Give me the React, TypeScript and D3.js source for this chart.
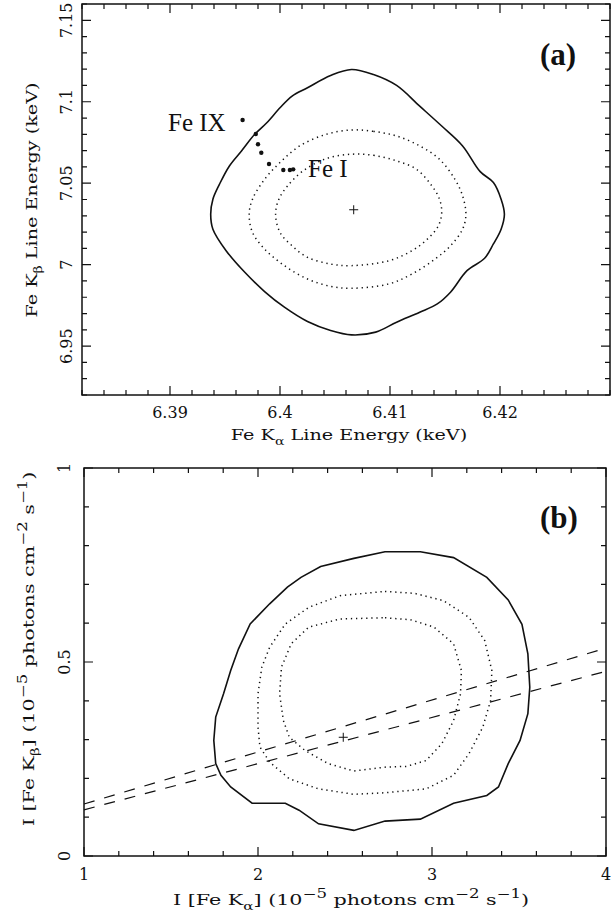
import React from 'react';
import * as d3 from 'd3';

type Pt = [number, number];

// ---- panel (a): Kalpha vs Kbeta line energy (keV)
const kaDomain: Pt = [6.382, 6.43];
const kbDomain: Pt = [6.92, 7.16];
const kaTicks = [6.39, 6.4, 6.41, 6.42];
const kbTicks = [6.95, 7, 7.05, 7.1, 7.15];

const outerA: Pt[] = [
  [6.4065, 7.1198], [6.4085, 7.1167], [6.4106, 7.11], [6.4127, 7.0973], [6.4147, 7.0851],
  [6.4166, 7.0729], [6.4182, 7.0571], [6.4194, 7.0504], [6.4201, 7.0402], [6.4204, 7.031],
  [6.4201, 7.0218], [6.4194, 7.0127], [6.4186, 7.0039], [6.417, 6.9963], [6.4155, 6.9831],
  [6.4143, 6.9759], [6.4127, 6.9708], [6.4106, 6.9647], [6.4087, 6.9586], [6.4065, 6.9569],
  [6.4046, 6.9596], [6.4025, 6.9651], [6.4004, 6.9739], [6.3986, 6.9835], [6.3968, 6.9953],
  [6.3951, 7.0086], [6.3939, 7.0218], [6.3937, 7.031], [6.3939, 7.0402], [6.3945, 7.0494],
  [6.3954, 7.0606], [6.3965, 7.0698], [6.3977, 7.08], [6.3988, 7.0871], [6.4, 7.0963],
  [6.4011, 7.1035], [6.4025, 7.1086], [6.4046, 7.1161],
];
const midA: Pt[] = [
  [6.4065, 7.0827], [6.4085, 7.0818], [6.4106, 7.079], [6.4127, 7.0729], [6.4145, 7.0647],
  [6.4159, 7.0524], [6.4166, 7.0422], [6.4169, 7.031], [6.4166, 7.0218], [6.4155, 7.0116],
  [6.4141, 7.0035], [6.412, 6.9943], [6.4099, 6.9882], [6.4065, 6.9855], [6.4046, 6.9867],
  [6.4025, 6.9912], [6.4004, 6.9994], [6.3986, 7.0096], [6.3975, 7.0198], [6.3972, 7.031],
  [6.3975, 7.0402], [6.3986, 7.0524], [6.4, 7.0627], [6.4018, 7.0729], [6.4042, 7.08],
];
const innerA: Pt[] = [
  [6.4065, 7.0678], [6.4085, 7.0671], [6.4106, 7.0637], [6.4124, 7.0586], [6.4138, 7.0484],
  [6.4145, 7.0402], [6.4147, 7.032], [6.4144, 7.0239], [6.4134, 7.0157], [6.412, 7.0086],
  [6.4099, 7.0024], [6.4065, 6.9994], [6.4046, 7.0004], [6.4025, 7.0045], [6.4011, 7.0116],
  [6.4, 7.0198], [6.3996, 7.031], [6.3999, 7.0402], [6.4007, 7.0484], [6.4021, 7.0576],
  [6.4042, 7.0651],
];
const bestA: Pt = [6.4067, 7.0337];
// Fe IX ... Fe I laboratory energies
const ionPoints: Pt[] = [
  [6.3966, 7.0888], [6.3978, 7.0802], [6.398, 7.0739], [6.3983, 7.0687],
  [6.399, 7.0618], [6.4003, 7.0581], [6.4009, 7.0581], [6.4012, 7.0585],
];

// ---- panel (b): line intensities (1e-5 photons cm^-2 s^-1)
const iaDomain: Pt = [1, 4];
const ibDomain: Pt = [0, 1];
const iaTicks = [1, 2, 3, 4];
const ibTicks = [0, 0.5, 1];

const outerB: Pt[] = [
  [2.73, 0.784], [2.933, 0.784], [3.124, 0.769], [3.315, 0.718], [3.438, 0.66],
  [3.517, 0.597], [3.551, 0.521], [3.562, 0.435], [3.551, 0.367], [3.506, 0.298],
  [3.438, 0.238], [3.382, 0.178], [3.315, 0.156], [3.124, 0.136], [2.933, 0.095],
  [2.73, 0.09], [2.551, 0.066], [2.348, 0.083], [2.236, 0.118], [2.157, 0.136],
  [1.966, 0.136], [1.843, 0.178], [1.787, 0.208], [1.757, 0.238], [1.746, 0.298],
  [1.757, 0.358], [1.802, 0.418], [1.843, 0.478], [1.888, 0.534], [1.955, 0.598],
  [2.067, 0.65], [2.169, 0.693], [2.247, 0.718], [2.36, 0.746], [2.551, 0.767],
];
const midB: Pt[] = [
  [2.73, 0.682], [2.899, 0.677], [3.067, 0.658], [3.213, 0.615], [3.303, 0.555],
  [3.344, 0.478], [3.337, 0.401], [3.292, 0.332], [3.213, 0.264], [3.124, 0.208],
  [2.966, 0.173], [2.73, 0.163], [2.551, 0.159], [2.348, 0.173], [2.18, 0.199],
  [2.067, 0.242], [2.011, 0.281], [2.0, 0.332], [2.0, 0.418], [2.022, 0.487],
  [2.067, 0.538], [2.157, 0.598], [2.292, 0.641], [2.472, 0.671],
];
const innerB: Pt[] = [
  [2.73, 0.614], [2.876, 0.609], [3.011, 0.59], [3.124, 0.547], [3.169, 0.478],
  [3.164, 0.418], [3.124, 0.349], [3.056, 0.289], [2.966, 0.246], [2.854, 0.231],
  [2.73, 0.229], [2.551, 0.219], [2.404, 0.238], [2.27, 0.272], [2.18, 0.306],
  [2.146, 0.349], [2.124, 0.418], [2.135, 0.487], [2.191, 0.547], [2.292, 0.59],
  [2.472, 0.611],
];
const bestB: Pt = [2.49, 0.306];
// Kbeta/Kalpha ratio range
const ratioLines = [0.134, 0.119];

const FONT = 'DejaVu Serif';
const TIMES = 'Liberation Serif';
const INK = '#111';
// the plot lettering is wider than DejaVu Serif
const STRETCH = 1.28;
const STRETCH_FLUX = 1.38;

type Scale = d3.ScaleLinear<number, number>;

function Frame({ x, y, xMajor, xMinorStep, yMajor, yMinorStep }: {
  x: Scale; y: Scale; xMajor: number[]; xMinorStep: number; yMajor: number[]; yMinorStep: number;
}) {
  const [x0, x1] = x.range();
  const [y0, y1] = y.range(); // y0 bottom, y1 top
  const [dx0, dx1] = x.domain();
  const [dy0, dy1] = y.domain();
  const xMinor = d3.range(Math.ceil(dx0 / xMinorStep - 1e-6) * xMinorStep, dx1 + 1e-9, xMinorStep);
  const yMinor = d3.range(Math.ceil(dy0 / yMinorStep - 1e-6) * yMinorStep, dy1 + 1e-9, yMinorStep);
  const isMajor = (v: number, arr: number[]) => arr.some(m => Math.abs(m - v) < 1e-7);
  const ticks: string[] = [];
  xMinor.forEach(v => {
    const px = x(v);
    const len = isMajor(v, xMajor) ? 9 : 5;
    ticks.push(`M${px},${y0}v${-len}M${px},${y1}v${len}`);
  });
  yMinor.forEach(v => {
    const py = y(v);
    const len = isMajor(v, yMajor) ? 9 : 5;
    ticks.push(`M${x0},${py}h${len}M${x1},${py}h${-len}`);
  });
  return (
    <g>
      <path d={ticks.join('')} stroke={INK} strokeWidth={1.2} fill="none" />
      <rect x={x0} y={y1} width={x1 - x0} height={y0 - y1} fill="none" stroke={INK} strokeWidth={1.5} />
    </g>
  );
}

function Contours({ x, y, outer, mid, inner, best, curve }: {
  x: Scale; y: Scale; outer: Pt[]; mid: Pt[]; inner: Pt[]; best: Pt; curve: d3.CurveFactory;
}) {
  const line = d3.line<Pt>().x(d => x(d[0])).y(d => y(d[1])).curve(curve);
  const bx = x(best[0]);
  const by = y(best[1]);
  return (
    <g fill="none" stroke={INK}>
      <path d={line(outer) || ''} strokeWidth={1.6} />
      <path d={line(mid) || ''} strokeWidth={1.5} strokeDasharray="1.3 3.8" />
      <path d={line(inner) || ''} strokeWidth={1.5} strokeDasharray="1.3 3.8" />
      <path d={`M${bx - 4.5},${by}h9M${bx},${by - 4.5}v9`} strokeWidth={1} />
    </g>
  );
}

// intensity axis title with sub- and superscripts
function FluxTitle({ line }: { line: string }) {
  return (
    <>
      I [Fe K<tspan fontSize={11} dy={5}>{line}</tspan><tspan dy={-5}>] (10</tspan>
      <tspan fontSize={12} dy={-7}>−5</tspan><tspan dy={7}> photons cm</tspan>
      <tspan fontSize={12} dy={-7}>−2</tspan><tspan dy={7}> s</tspan>
      <tspan fontSize={12} dy={-7}>−1</tspan><tspan dy={7}>)</tspan>
    </>
  );
}

export default function App() {
  // panel (a)
  const xa = d3.scaleLinear().domain(kaDomain).range([82, 610]);
  const ya = d3.scaleLinear().domain(kbDomain).range([395, 4]);
  // panel (b)
  const xb = d3.scaleLinear().domain(iaDomain).range([84, 606]);
  const yb = d3.scaleLinear().domain(ibDomain).range([856, 468]);

  const fmt = (v: number) => String(+v.toFixed(3));

  return (
    <svg width={611} height={917} style={{ position: 'absolute', left: 0, top: 0, background: '#fff' }}
      fontFamily={FONT} fill={INK}>
      <rect width={611} height={917} fill="#fff" />

      {/* ---------- panel (a) ---------- */}
      <Contours x={xa} y={ya} outer={outerA} mid={midA} inner={innerA} best={bestA}
        curve={d3.curveCatmullRomClosed} />
      {ionPoints.map((p, i) => (
        <circle key={i} cx={xa(p[0])} cy={ya(p[1])} r={2.2} fill={INK} />
      ))}
      <text x={168} y={131} fontFamily={TIMES} fontSize={25}>Fe IX</text>
      <text x={308} y={177} fontFamily={TIMES} fontSize={25}>Fe I</text>
      <text x={540} y={65} fontFamily={TIMES} fontSize={31} fontWeight="bold">(a)</text>
      <Frame x={xa} y={ya} xMajor={kaTicks} xMinorStep={0.002} yMajor={kbTicks} yMinorStep={0.01} />
      {kaTicks.map(v => (
        <text key={v} x={xa(v)} y={418} fontSize={16} textAnchor="middle">{fmt(v)}</text>
      ))}
      {kbTicks.map(v => (
        <text key={v} transform={`translate(72,${ya(v)}) rotate(-90)`} fontSize={16} textAnchor="middle">{fmt(v)}</text>
      ))}
      <text transform={`translate(349,440) scale(${STRETCH},1)`} fontSize={15} textAnchor="middle">
        Fe K<tspan fontSize={11} dy={5}>α</tspan><tspan dy={-5}> Line Energy (keV)</tspan>
      </text>
      <text transform={`translate(37,200) rotate(-90) scale(${STRETCH},1)`} fontSize={15} textAnchor="middle">
        Fe K<tspan fontSize={11} dy={5}>β</tspan><tspan dy={-5}> Line Energy (keV)</tspan>
      </text>

      {/* ---------- panel (b) ---------- */}
      <Contours x={xb} y={yb} outer={outerB} mid={midB} inner={innerB} best={bestB}
        curve={d3.curveLinearClosed} />
      {ratioLines.map(r => (
        <line key={r} x1={xb(iaDomain[0])} y1={yb(r * iaDomain[0])} x2={xb(iaDomain[1])} y2={yb(r * iaDomain[1])}
          stroke={INK} strokeWidth={1.2} strokeDasharray="11 10" />
      ))}
      <text x={540} y={528} fontFamily={TIMES} fontSize={31} fontWeight="bold">(b)</text>
      <Frame x={xb} y={yb} xMajor={iaTicks} xMinorStep={0.2} yMajor={ibTicks} yMinorStep={0.1} />
      {iaTicks.map(v => (
        <text key={v} x={xb(v)} y={880} fontSize={16} textAnchor="middle">{fmt(v)}</text>
      ))}
      {ibTicks.map(v => (
        <text key={v} transform={`translate(70,${yb(v)}) rotate(-90)`} fontSize={16} textAnchor="middle">{fmt(v)}</text>
      ))}
      <text transform={`translate(351,905) scale(${STRETCH_FLUX},1)`} fontSize={15} textAnchor="middle">
        <FluxTitle line="α" />
      </text>
      <text transform={`translate(34,649) rotate(-90) scale(${STRETCH_FLUX},1)`} fontSize={15} textAnchor="middle">
        <FluxTitle line="β" />
      </text>
    </svg>
  );
}
